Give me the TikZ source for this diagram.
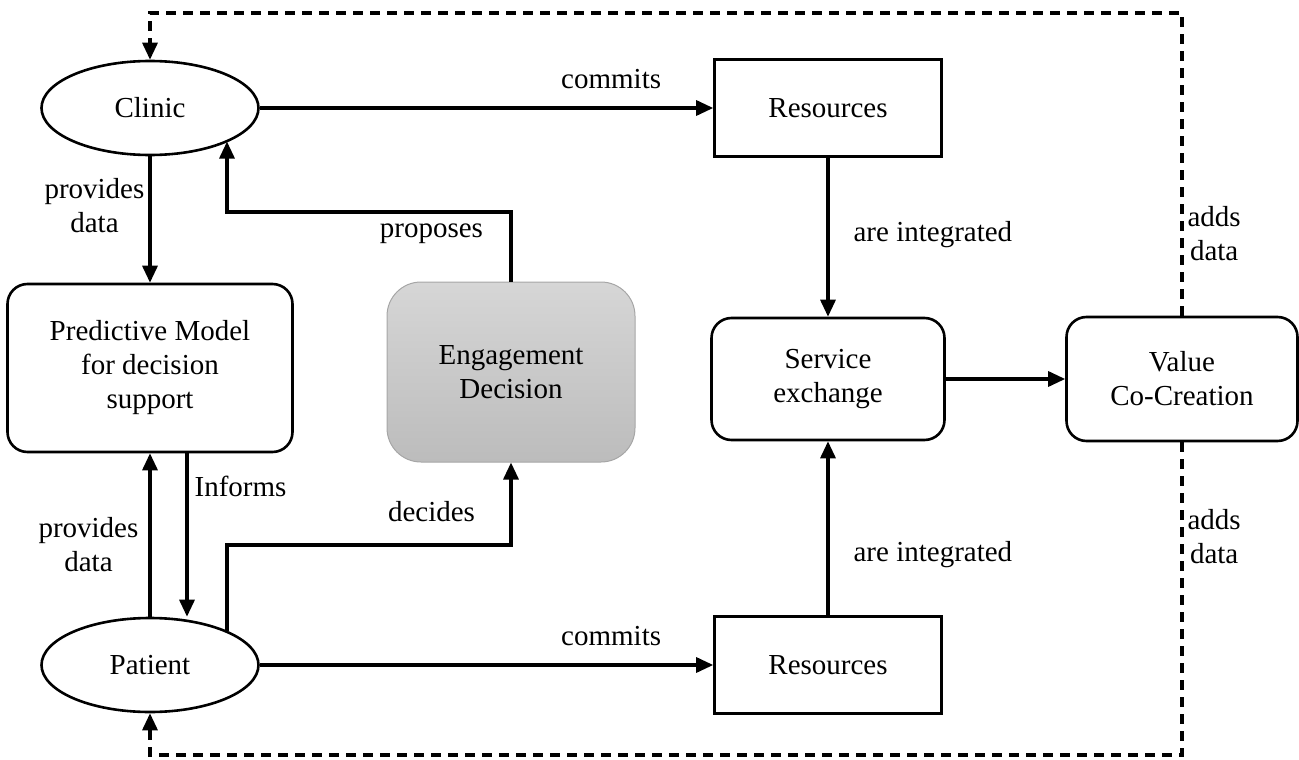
\documentclass[tikz,border=0pt]{standalone}
\usepackage{fontspec}
\setmainfont{Liberation Serif}
\usetikzlibrary{shapes.geometric, positioning, arrows.meta}
\definecolor{decisiontop}{HTML}{D6D6D6}
\definecolor{decisionbottom}{HTML}{BCBCBC}
\tikzset{%
  every node/.style={font=\fontsize{29}{34}\selectfont, align=center},
  actor/.style={        % clinic and patient
    draw, ellipse, line width=2.6pt,
    minimum width=217pt, minimum height=94pt},
  resource/.style={
    draw, rectangle, line width=2.6pt,
    minimum width=227pt, minimum height=97pt},
  process/.style={
    draw, rectangle, rounded corners=20pt, line width=2.6pt},
  decision/.style={
    draw=gray!70, line width=1pt, rectangle, rounded corners=34pt,
    top color=decisiontop, bottom color=decisionbottom,
    minimum width=248pt, minimum height=180pt},
  link/.style={
    draw, line width=3.2pt,
    -{Triangle[length=17pt, width=15pt]}},
  feedback/.style={     % data loop back to the actors
    link, dash pattern=on 10pt off 7pt},
  lbl/.style={inner sep=2pt}
}

\begin{document}
\begin{tikzpicture}[x=1pt, y=-1pt]
    \useasboundingbox (0,0) rectangle (1299,760);

    \node[actor] (clinic) at (150,108) {Clinic};
    \node[actor] (patient) at (150,665) {Patient};
    \node[process, minimum width=285pt, minimum height=168pt] (model)
      at (150,368) {Predictive Model\\for decision\\support};
    \node[decision] (engage) at (511,372) {Engagement\\Decision};

    \node[resource] (res1) at (828,108) {Resources};
    \node[resource] (res2) at (828,665) {Resources};
    \node[process, minimum width=233pt, minimum height=122pt] (service)
      at (828,379) {Service\\exchange};
    \node[process, minimum width=231pt, minimum height=124pt] (value)
      at (1182,379) {Value\\Co-Creation};

    % bends of the routed connectors
    \coordinate (prop) at (227,212);
    \coordinate (dec) at (227,545);
    \coordinate (fbtop) at (150,13);
    \coordinate (fbbot) at (150,755);

    \draw[link] (clinic) -- node[lbl, left=2pt, pos=0.39] {provides\\data} (model);
    \draw[link] (patient) -- node[lbl, left=8pt, pos=0.44] {provides\\data} (model);
    \draw[link] ([xshift=37pt]model.south)
      -- node[lbl, right=4pt, pos=0.2] {Informs} ([xshift=37pt]patient.north);

    \draw[link] (engage.north) |- node[lbl, below=8pt, pos=0.64] {proposes} (prop)
      -- (prop |- clinic.-23);
    \draw[link] (dec |- patient.23) -- (dec)
      -| node[lbl, above=20pt, pos=0.36] {decides} (engage);

    \draw[link] (clinic) -- node[lbl, above=16pt, pos=0.775] {commits} (res1);
    \draw[link] (patient) -- node[lbl, above=16pt, pos=0.775] {commits} (res2);
    \draw[link] (res1) -- node[lbl, right=22pt, pos=0.48] {are integrated} (service);
    \draw[link] (res2) -- node[lbl, right=22pt, pos=0.35] {are integrated} (service);
    \draw[link] (service) -- (value);

    \draw[feedback] (value.north) |- node[lbl, right=2pt, pos=0.136] {adds\\data} (fbtop)
      -- (clinic);
    \draw[feedback] (value.south) |- node[lbl, right=2pt, pos=0.15] {adds\\data} (fbbot)
      -- (patient);

\end{tikzpicture}
\end{document}
